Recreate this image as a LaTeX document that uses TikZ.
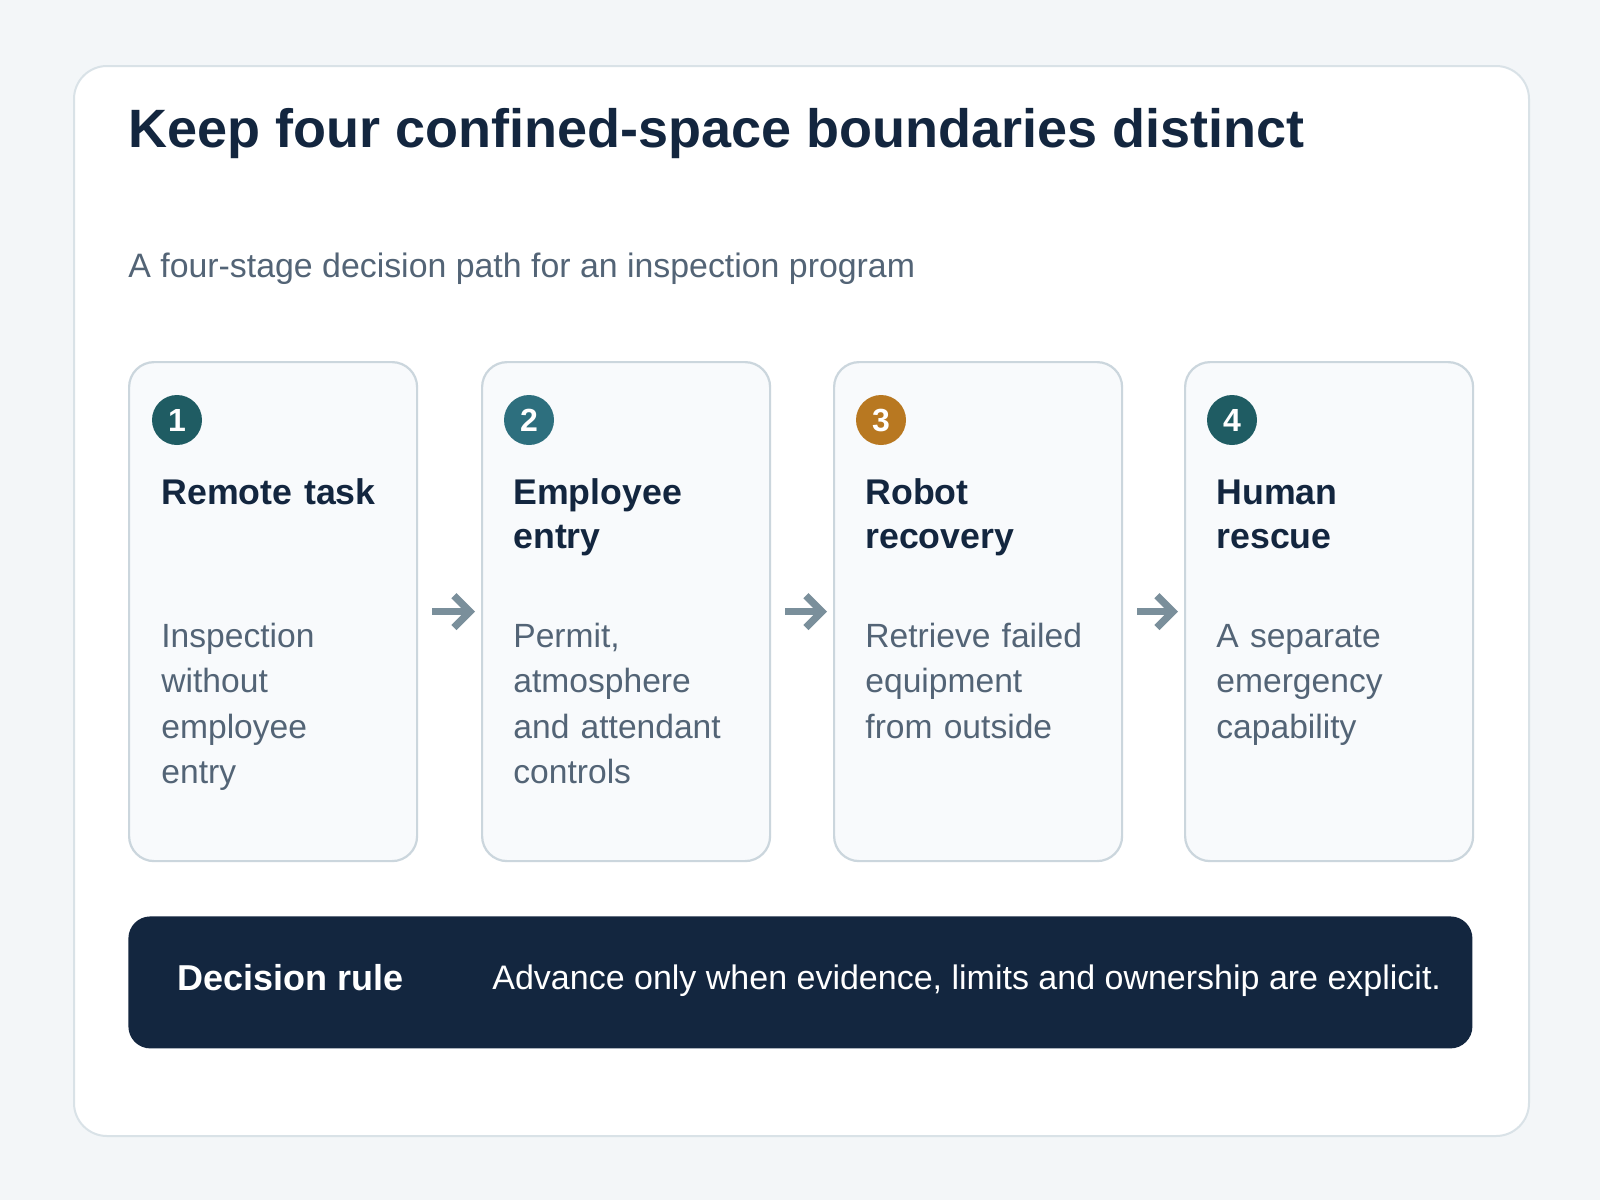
\documentclass[tikz,border=0pt]{standalone}
\usepackage{fontspec}
\setmainfont{Liberation Sans}
\usetikzlibrary{arrows.meta}
\definecolor{bgc}{HTML}{F3F6F8}
\definecolor{outerline}{HTML}{D9E2E7}
\definecolor{cardfill}{HTML}{F8FAFC}
\definecolor{cardline}{HTML}{CBD6DD}
\definecolor{navy}{HTML}{13263F}
\definecolor{slate}{HTML}{536476}
\definecolor{arrowc}{HTML}{7A8F9B}
\definecolor{tealA}{HTML}{1F5C63}
\definecolor{tealB}{HTML}{2D6F7E}
\definecolor{amber}{HTML}{B87821}
\tikzset{
  outercard/.style={draw=outerline, line width=1pt, fill=white, rounded corners=16.5pt,
    minimum width=727.5pt, minimum height=535pt, anchor=north west, inner sep=0},
  cardbox/.style={draw=cardline, line width=1.1pt, fill=cardfill, rounded corners=12.5pt,
    minimum width=144pt, minimum height=249.5pt, anchor=north west, inner sep=0},
  badge/.style={circle, minimum size=25pt, inner sep=0, text=white,
    font=\fontsize{16}{18}\selectfont\bfseries},
  headtext/.style={anchor=base west, inner sep=0, text width=135pt, align=left,
    text=navy, font=\fontsize{17.85}{22}\selectfont\bfseries},
  bodytext/.style={anchor=base west, inner sep=0, text width=135pt, align=left,
    text=slate, font=\fontsize{16.8}{22.75}\selectfont},
  flowarrow/.style={draw=arrowc, line width=3.6pt, line cap=butt,
    -{Straight Barb[length=8pt, width=16pt, line join=miter]}},
  rulebar/.style={fill=navy, rounded corners=11pt, minimum width=672pt,
    minimum height=66pt, anchor=north west, inner sep=0},
}
\begin{document}
\begin{tikzpicture}[x=0.5pt, y=-0.5pt]
\fill[bgc] (0,0) rectangle (1600,1200);
\useasboundingbox (0,0) rectangle (1600,1200);
\node[outercard] (outer) at (73,65) {};
\node[anchor=base west, inner sep=0, text=navy, font=\fontsize{27}{32}\selectfont\bfseries]
  (title) at (128,147) {Keep four confined-space boundaries distinct};
\node[anchor=base west, inner sep=0, text=slate, font=\fontsize{16.93}{20}\selectfont]
  (subtitle) at (128,277) {A four-stage decision path for an inspection program};
% cards
\node[cardbox] (c1) at (128,361) {};
\node[cardbox] (c2) at (481,361) {};
\node[cardbox] (c3) at (833,361) {};
\node[cardbox] (c4) at (1184,361) {};
% badges
\node[badge, fill=tealA] (n1) at (177,420) {1};
\node[badge, fill=tealB] (n2) at (529,420) {2};
\node[badge, fill=amber] (n3) at (881,420) {3};
\node[badge, fill=tealA] (n4) at (1232,420) {4};
% headings
\node[headtext] (h1) at (161,504) {Remote task};
\node[headtext] (h2) at (513,504) {Employee\\entry};
\node[headtext] (h3) at (865,504) {Robot\\recovery};
\node[headtext] (h4) at (1216,504) {Human\\rescue};
% bodies
\node[bodytext] (b1) at (161,647) {Inspection\\without\\employee\\entry};
\node[bodytext] (b2) at (513,647) {Permit,\\atmosphere\\and attendant\\controls};
\node[bodytext] (b3) at (865,647) {Retrieve failed\\equipment\\from outside};
\node[bodytext] (b4) at (1216,647) {A separate\\emergency\\capability};
% arrows
\draw[flowarrow] ([xshift=7pt]c1.east) -- ([xshift=-3pt]c2.west);
\draw[flowarrow] ([xshift=7pt]c2.east) -- ([xshift=-3pt]c3.west);
\draw[flowarrow] ([xshift=7pt]c3.east) -- ([xshift=-3pt]c4.west);
% decision rule bar
\node[rulebar] (bar) at (128,916) {};
\node[anchor=base west, inner sep=0, text=white, font=\fontsize{18}{21}\selectfont\bfseries]
  (rulelabel) at (177,990) {Decision rule};
\node[anchor=base west, inner sep=0, text=white, font=\fontsize{17}{20}\selectfont]
  (ruletext) at (492,989) {Advance only when evidence, limits and ownership are explicit.};
\end{tikzpicture}
\end{document}
